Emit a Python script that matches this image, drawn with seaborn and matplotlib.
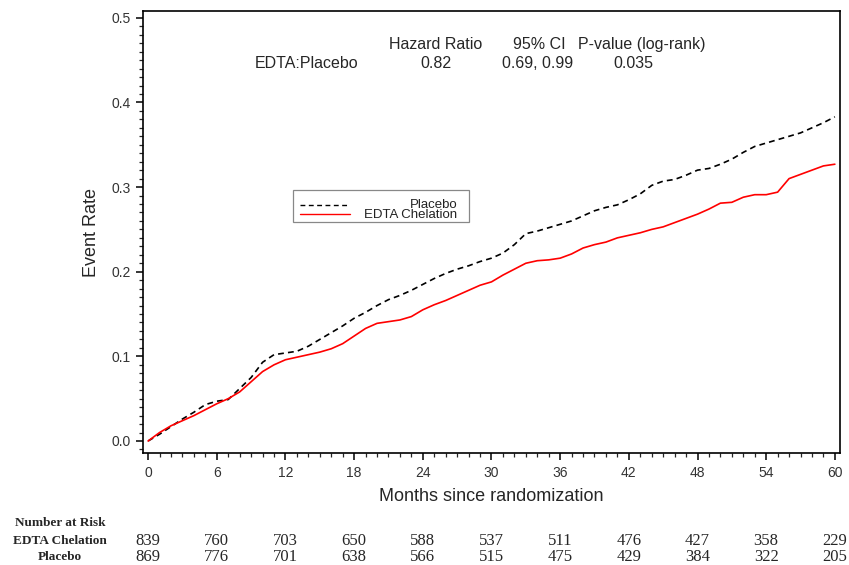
import numpy as np
import pandas as pd
import matplotlib
matplotlib.use('Agg')
import matplotlib.pyplot as plt
import seaborn as sns
from matplotlib.ticker import MultipleLocator, FormatStrFormatter
from matplotlib.patches import Rectangle
from matplotlib.lines import Line2D

# cumulative event rate, one value per month
months = list(range(61))
placebo_rate = [0.0, 0.008, 0.017, 0.026, 0.034, 0.043, 0.047, 0.049, 0.062, 0.075,
                0.093, 0.102, 0.104, 0.106, 0.112, 0.120, 0.128, 0.136, 0.145, 0.152,
                0.160, 0.167, 0.172, 0.178, 0.185, 0.192, 0.198, 0.203, 0.207, 0.212,
                0.216, 0.222, 0.232, 0.245, 0.248, 0.252, 0.256, 0.260, 0.266, 0.272,
                0.276, 0.279, 0.285, 0.292, 0.302, 0.307, 0.309, 0.314, 0.320, 0.322,
                0.327, 0.333, 0.341, 0.348, 0.352, 0.356, 0.360, 0.364, 0.370, 0.376,
                0.383]
edta_rate = [0.0, 0.010, 0.018, 0.024, 0.030, 0.037, 0.044, 0.050, 0.058, 0.070,
             0.082, 0.090, 0.096, 0.099, 0.102, 0.105, 0.109, 0.115, 0.124, 0.133,
             0.139, 0.141, 0.143, 0.147, 0.155, 0.161, 0.166, 0.172, 0.178, 0.184,
             0.188, 0.196, 0.203, 0.210, 0.213, 0.214, 0.216, 0.221, 0.228, 0.232,
             0.235, 0.240, 0.243, 0.246, 0.250, 0.253, 0.258, 0.263, 0.268, 0.274,
             0.281, 0.282, 0.288, 0.291, 0.291, 0.294, 0.310, 0.315, 0.320, 0.325,
             0.327]

# number at risk table
risk_months = [0, 6, 12, 18, 24, 30, 36, 42, 48, 54, 60]
risk_edta = [839, 760, 703, 650, 588, 537, 511, 476, 427, 358, 229]
risk_placebo = [869, 776, 701, 638, 566, 515, 475, 429, 384, 322, 205]

hr_header = ['Hazard Ratio', '95% CI', 'P-value (log-rank)']
hr_row = ['EDTA:Placebo', '0.82', '0.69, 0.99', '0.035']

df = pd.DataFrame({
    'month': months + months,
    'rate': placebo_rate + edta_rate,
    'group': ['Placebo'] * len(months) + ['EDTA Chelation'] * len(months),
})

sns.set_style('ticks')
plt.rcParams['font.family'] = ['Liberation Sans', 'DejaVu Sans']

fig = plt.figure(figsize=(8.49, 5.65), dpi=100)
ax = fig.add_axes([0.1684, 0.1982, 0.8210, 0.7823])

colors = {'Placebo': 'black', 'EDTA Chelation': 'red'}
dashes = {'Placebo': (3.5, 2.5), 'EDTA Chelation': ''}
sns.lineplot(data=df, x='month', y='rate', hue='group', style='group',
             palette=colors, dashes=dashes, linewidth=1.2, legend=False, ax=ax)

ax.set_xlim(-0.45, 60.45)
ax.set_ylim(-0.0142, 0.508)
ax.xaxis.set_major_locator(MultipleLocator(6))
ax.xaxis.set_minor_locator(MultipleLocator(1))
ax.yaxis.set_major_locator(MultipleLocator(0.1))
ax.yaxis.set_minor_locator(MultipleLocator(0.01))
ax.yaxis.set_major_formatter(FormatStrFormatter('%.1f'))
ax.tick_params(which='major', direction='out', length=5, width=1.1,
               labelsize=10, colors='black', labelcolor='#333333', pad=4)
ax.tick_params(which='minor', direction='out', length=3, width=0.9)
for s in ax.spines.values():
    s.set_linewidth(1.2)
    s.set_color('black')

ax.set_xlabel('Months since randomization', fontsize=13, labelpad=6)
ax.set_ylabel('Event Rate', fontsize=13, labelpad=8)

# hand-made legend with right-aligned labels
ax.add_patch(Rectangle((0.215, 0.523), 0.253, 0.072, transform=ax.transAxes,
                       fill=False, edgecolor='#888888', linewidth=0.9))
ax.add_line(Line2D([0.225, 0.297], [0.562, 0.562], transform=ax.transAxes,
                   color='black', linestyle=(0, (3.5, 2.5)), linewidth=1.0))
ax.add_line(Line2D([0.225, 0.297], [0.540, 0.540], transform=ax.transAxes,
                   color='red', linewidth=1.0))
ax.text(0.451, 0.562, 'Placebo', transform=ax.transAxes, ha='right',
        va='center', fontsize=9.5, color='#222222')
ax.text(0.451, 0.538, 'EDTA Chelation', transform=ax.transAxes, ha='right',
        va='center', fontsize=9.5, color='#222222')

# hazard ratio block
fs = 11.5
fig.text(0.5135, 0.921, hr_header[0], ha='center', va='center', fontsize=fs)
fig.text(0.6667, 0.921, hr_header[1], ha='right', va='center', fontsize=fs)
fig.text(0.7556, 0.921, hr_header[2], ha='center', va='center', fontsize=fs)
fig.text(0.3616, 0.888, hr_row[0], ha='center', va='center', fontsize=fs)
fig.text(0.5135, 0.888, hr_row[1], ha='center', va='center', fontsize=fs)
fig.text(0.6337, 0.888, hr_row[2], ha='center', va='center', fontsize=fs)
fig.text(0.7456, 0.888, hr_row[3], ha='center', va='center', fontsize=fs)

# number at risk table
serif = ['Liberation Serif', 'DejaVu Serif']
fig.text(0.0707, 1 - 523 / 565, 'Number at Risk', ha='center', va='center',
         fontsize=9.5, fontweight='bold', family=serif)
fig.text(0.0707, 1 - 541 / 565, 'EDTA Chelation', ha='center', va='center',
         fontsize=9.5, fontweight='bold', family=serif)
fig.text(0.0707, 1 - 557 / 565, 'Placebo', ha='center', va='center',
         fontsize=9.5, fontweight='bold', family=serif)
trans = matplotlib.transforms.blended_transform_factory(ax.transData, fig.transFigure)
for m, e, p in zip(risk_months, risk_edta, risk_placebo):
    fig.text(m, 1 - 541 / 565, str(e), ha='center', va='center', fontsize=12,
             family=serif, transform=trans)
    fig.text(m, 1 - 557 / 565, str(p), ha='center', va='center', fontsize=12,
             family=serif, transform=trans)

fig.savefig('out.png', dpi=100)
